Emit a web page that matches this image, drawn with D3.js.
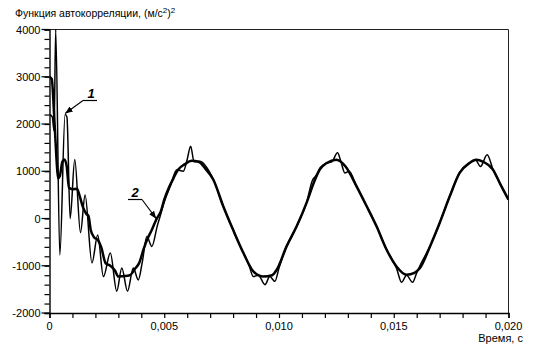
<!DOCTYPE html>
<html>
<head>
<meta charset="utf-8">
<script src="https://cdn.jsdelivr.net/npm/d3@7"></script>
<style>
  body { margin: 0; background: #fff; }
  svg { display: block; font-family: "Liberation Sans", Arial, sans-serif; }
</style>
</head>
<body>
<div id="chart"></div>
<script>
// axis ticks
const yTickValues = [-2000, -1000, 0, 1000, 2000, 3000, 4000];
const xTickValues = [0, 0.005, 0.010, 0.015, 0.020];
const xTickLabels = ["0", "0,005", "0,010", "0,015", "0,020"];

// curve 1 (raw, noisy) : [time ms, value]
const curve1 = [
  [0, 2200], [0.12, 2150], [0.2, 1850], [0.27, 4000], [0.45, -770], [0.68, 2200], [0.76, 2150],
  [0.9, 0], [1.1, 1250], [1.35, -300], [1.55, 500], [1.85, -940], [2.1, -350], [2.35, -1230],
  [2.65, -730], [2.93, -1540], [3.15, -1050], [3.4, -1540], [3.65, -1050], [3.87, -1300],
  [4.05, -900], [4.24, -380], [4.46, -590], [4.7, -150], [4.82, 45], [5.0, 350], [5.26, 680],
  [5.55, 1030], [5.83, 1000], [6.0, 1250], [6.15, 1530], [6.3, 1200], [6.56, 1210], [6.85, 1080],
  [7.14, 820], [7.57, 260], [8.0, -240], [8.45, -730], [8.7, -1000], [8.88, -1230], [9.1, -1200],
  [9.39, -1400], [9.6, -1230], [9.82, -1330], [10.0, -1050], [10.33, -590], [10.77, -165],
  [11.2, 330], [11.45, 800], [11.6, 900], [11.8, 1080], [12.08, 1175], [12.3, 1200], [12.55, 1390],
  [12.7, 1200], [12.87, 965], [13.05, 1000], [13.38, 680], [13.82, 260], [14.25, -165],
  [14.69, -660], [15.12, -1050], [15.34, -1350], [15.56, -1200], [15.82, -1350], [16.0, -1150],
  [16.14, -1000], [16.58, -590], [17.0, -95], [17.44, 470], [17.87, 965], [18.3, 1175],
  [18.55, 1250], [18.78, 1100], [19.07, 1350], [19.33, 1030], [19.62, 750], [20, 400]
];

// curve 2 (smoothed) : [time ms, value]
const curve2 = [
  [0, 3000], [0.1, 2950], [0.2, 2200], [0.3, 1300], [0.37, 850], [0.45, 900], [0.56, 1200],
  [0.65, 1250], [0.75, 1100], [0.85, 650], [1.0, 620], [1.2, 630], [1.3, 500], [1.45, 250],
  [1.6, 100], [1.7, 50], [1.8, -250], [1.95, -400], [2.1, -450], [2.25, -600], [2.45, -950],
  [2.65, -1000], [2.85, -1100], [3.0, -1230], [3.2, -1220], [3.5, -1200], [3.75, -1050],
  [3.9, -950], [4.1, -650], [4.25, -450], [4.45, -250], [4.65, -25], [4.85, 150], [5.0, 400],
  [5.2, 650], [5.4, 850], [5.6, 1030], [5.9, 1150], [6.2, 1220], [6.5, 1200], [6.8, 1050],
  [7.14, 820], [7.57, 260], [8.0, -240], [8.45, -730], [8.88, -1120], [9.32, -1230], [9.7, -1200],
  [9.9, -1085], [10.33, -590], [10.77, -165], [11.2, 330], [11.55, 800], [11.8, 1050],
  [12.08, 1175], [12.5, 1245], [12.9, 1100], [13.38, 680], [13.82, 260], [14.25, -165],
  [14.69, -660], [15.12, -1015], [15.56, -1190], [15.9, -1150], [16.14, -1050], [16.58, -590],
  [17.0, -95], [17.44, 470], [17.87, 965], [18.3, 1175], [18.6, 1245], [18.9, 1200],
  [19.33, 1030], [19.62, 750], [20, 400]
];

// dimensions
const width = 546, height = 349;
const plotLeft = 49.5, plotRight = 508.5, plotTop = 29.5, plotBottom = 313;

const x = d3.scaleLinear().domain([0, 0.020]).range([plotLeft, plotRight]);
const y = d3.scaleLinear().domain([-2000, 4000]).range([plotBottom, plotTop]);

const svg = d3.select("#chart").append("svg")
  .attr("width", width)
  .attr("height", height);

const defs = svg.append("defs");
defs.append("clipPath").attr("id", "plot")
  .append("rect")
  .attr("x", plotLeft).attr("y", plotTop)
  .attr("width", plotRight - plotLeft).attr("height", plotBottom - plotTop);

// frame (top + right)
svg.append("path")
  .attr("d", `M${plotLeft},${plotTop}H${plotRight}V${plotBottom}`)
  .attr("fill", "none")
  .attr("stroke", "#222")
  .attr("stroke-width", 1);

// y axis, major every 1000 and minor every 200
const yAxis = svg.append("g").attr("transform", `translate(${plotLeft},0)`);
yAxis.call(d3.axisLeft(y).tickValues(d3.range(-2000, 4001, 200)).tickSize(5).tickFormat(""));
yAxis.call(g => g.selectAll(".tick line").attr("stroke-width", 1.2));
yAxis.append("g").selectAll("line")
  .data(yTickValues)
  .join("line")
  .attr("x1", -8).attr("x2", 0)
  .attr("y1", d => y(d)).attr("y2", d => y(d))
  .attr("stroke", "#000").attr("stroke-width", 1.2);
yAxis.select(".domain").attr("stroke-width", 1.4);
yAxis.append("g").selectAll("text")
  .data(yTickValues)
  .join("text")
  .attr("x", -9)
  .attr("y", d => y(d) + 4)
  .attr("text-anchor", "end")
  .attr("font-size", 11)
  .attr("fill", "#000")
  .text(d => d);

// x axis, major every 0.005 and minor every 0.001
const xAxis = svg.append("g").attr("transform", `translate(0,${plotBottom})`);
xAxis.call(d3.axisBottom(x).tickValues(d3.range(0, 21).map(d => d / 1000)).tickSize(5).tickFormat(""));
xAxis.call(g => g.selectAll(".tick line").attr("stroke-width", 1.2));
xAxis.select(".domain").attr("stroke-width", 1.4);
xAxis.append("g").selectAll("text")
  .data(xTickValues)
  .join("text")
  .attr("x", d => x(d))
  .attr("y", 17)
  .attr("text-anchor", "middle")
  .attr("font-size", 11)
  .attr("fill", "#000")
  .text((d, i) => xTickLabels[i]);

svg.append("text")
  .attr("x", 523).attr("y", 342)
  .attr("text-anchor", "end")
  .attr("font-size", 11)
  .text("Время, с");

// title with superscripts
const title = svg.append("text")
  .attr("x", 15).attr("y", 17)
  .attr("font-size", 10.5);
title.append("tspan").text("Функция автокорреляции, (м/с");
title.append("tspan").attr("dy", -4).attr("font-size", 8).text("2");
title.append("tspan").attr("dy", 4).text(")");
title.append("tspan").attr("dy", -4).attr("font-size", 8).text("2");

// curves
const line = d3.line()
  .x(d => x(d[0] / 1000))
  .y(d => y(d[1]))
  .curve(d3.curveMonotoneX);

const plot = svg.append("g").attr("clip-path", "url(#plot)");
plot.append("path")
  .datum(curve1)
  .attr("d", line)
  .attr("fill", "none")
  .attr("stroke", "#000")
  .attr("stroke-width", 1.5)
  .attr("stroke-linejoin", "round");
plot.append("path")
  .datum(curve2)
  .attr("d", line)
  .attr("fill", "none")
  .attr("stroke", "#000")
  .attr("stroke-width", 2.5)
  .attr("stroke-linejoin", "round");

// callouts "1" and "2"
defs.append("marker")
  .attr("id", "arrow")
  .attr("viewBox", "0 0 10 10")
  .attr("refX", 10).attr("refY", 5)
  .attr("markerWidth", 7).attr("markerHeight", 7)
  .attr("orient", "auto")
  .append("path")
  .attr("d", "M0,1L10,5L0,9z")
  .attr("fill", "#000");

const callouts = [
  {label: "1", tip: [0.68, 2200], lx: 91, ly: 98, ux0: 83, ux1: 97, from: 83},
  {label: "2", tip: [4.65, -25], lx: 135, ly: 197, ux0: 128, ux1: 142, from: 142}
];
callouts.forEach(c => {
  const uy = c.ly + 2.5;
  svg.append("line")
    .attr("x1", c.ux0).attr("x2", c.ux1)
    .attr("y1", uy).attr("y2", uy)
    .attr("stroke", "#000").attr("stroke-width", 1.2);
  svg.append("line")
    .attr("x1", c.from).attr("y1", uy)
    .attr("x2", x(c.tip[0] / 1000)).attr("y2", y(c.tip[1]) - 1)
    .attr("stroke", "#000").attr("stroke-width", 1.1)
    .attr("marker-end", "url(#arrow)");
  svg.append("text")
    .attr("x", c.lx).attr("y", c.ly)
    .attr("text-anchor", "middle")
    .attr("font-size", 13)
    .attr("font-style", "italic")
    .attr("font-weight", "bold")
    .text(c.label);
});
</script>
</body>
</html>
